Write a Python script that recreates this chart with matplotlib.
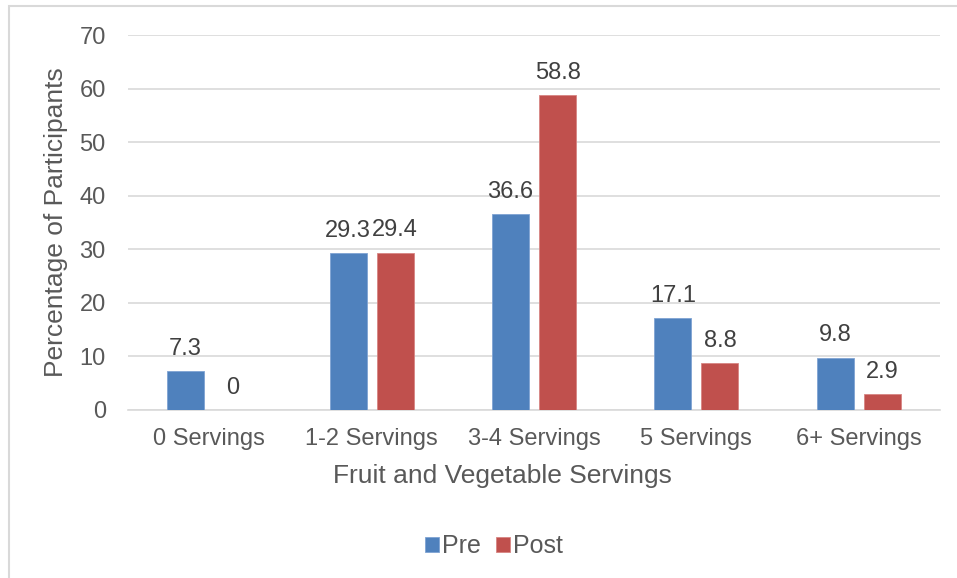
import matplotlib
matplotlib.use("Agg")
import matplotlib.pyplot as plt
import numpy as np
from matplotlib.patches import Rectangle

categories = ["0 Servings", "1-2 Servings", "3-4 Servings", "5 Servings", "6+ Servings"]
pre = [7.3, 29.3, 36.6, 17.1, 9.8]
post = [0, 29.4, 58.8, 8.8, 2.9]
series_names = ["Pre", "Post"]

plt.rcParams['font.family'] = ['Liberation Sans', 'DejaVu Sans']
TXT = "#595959"

fig = plt.figure(figsize=(9.57, 5.78), dpi=100)
ax = fig.add_axes([128/957, 1-410/578, (940-128)/957, (410-35)/578])

x = np.arange(len(categories))
w = 0.228
off = 0.145
b1 = ax.bar(x - off, pre, w, color="#4F81BD", edgecolor="#7FA3D3", linewidth=0.6, label=series_names[0], zorder=3)
b2 = ax.bar(x + off, post, w, color="#C0504D", edgecolor="#D78583", linewidth=0.6, label=series_names[1], zorder=3)

for bars, vals in ((b1, pre), (b2, post)):
    for r, v in zip(bars, vals):
        ax.annotate(f"{v:g}", (r.get_x() + r.get_width()/2, v), xytext=(0, 8),
                    textcoords="offset points", ha="center", va="bottom",
                    fontsize=17, color="#404040")

ax.set_xlim(-0.5, len(categories) - 0.5)
ax.set_ylim(0, 70)
ax.set_yticks(range(0, 71, 10))
ax.yaxis.grid(True, color="#D9D9D9", linewidth=1.2, zorder=0)
ax.set_axisbelow(True)
for s in ["top", "right", "left"]:
    ax.spines[s].set_visible(False)
ax.spines["bottom"].set_color("#D9D9D9")
ax.spines["bottom"].set_linewidth(1.2)
ax.tick_params(axis="both", length=0, labelsize=17, colors=TXT)
ax.tick_params(axis="y", pad=16)
ax.tick_params(axis="x", pad=13)
ax.set_xticks(x)
ax.set_xticklabels(categories)

ax.set_ylabel("Percentage of Participants", fontsize=19, color=TXT, labelpad=8)
ax.set_xlabel("Fruit and Vegetable Servings", fontsize=19, color=TXT)
ax.xaxis.set_label_coords((502 - 128) / 812, -(476 - 410) / 375)
ax.xaxis.label.set_va("center")

leg = fig.legend(handles=[b1, b2], labels=series_names, loc="center", bbox_to_anchor=(494/957, 1-546/578),
                 ncol=2, frameon=False, fontsize=18, handlelength=0.55, handleheight=0.55,
                 handletextpad=0.13, columnspacing=0.6, labelcolor=TXT)

# outer frame (left and top visible)
fig.add_artist(Rectangle((9/957, -0.05), 1.0, 1-6/578 + 0.05, transform=fig.transFigure,
                         fill=False, edgecolor="#D9D9D9", linewidth=1.5))

fig.savefig("out.png", dpi=100)
